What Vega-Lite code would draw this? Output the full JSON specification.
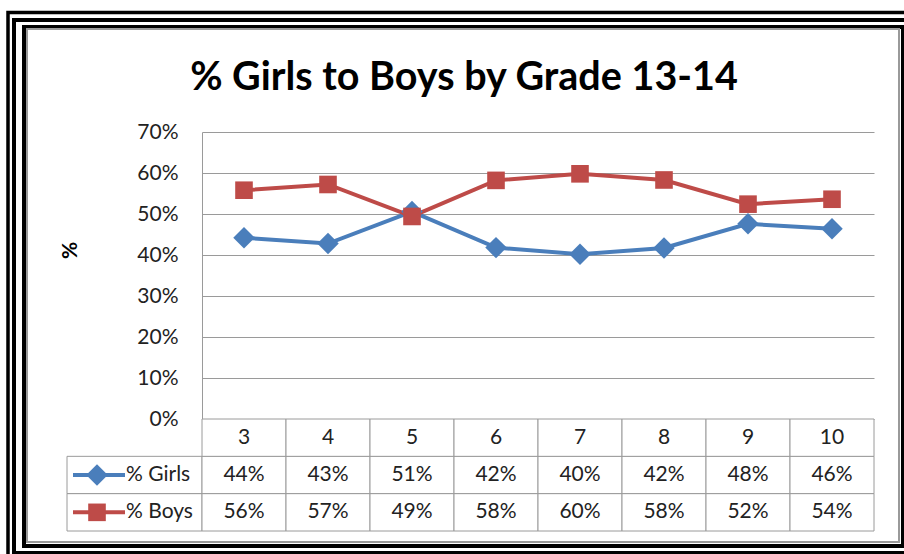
{
  "$schema": "https://vega.github.io/schema/vega-lite/v6.json",
  "padding": {"left": 6, "top": 10, "right": 0, "bottom": 0},
  "background": "white",
  "config": {"view": {"stroke": null}, "font": "Lato"},
  "datasets": {
    "rows": [
      {"grade": 3, "series": "% Girls", "value": 0.442},
      {"grade": 4, "series": "% Girls", "value": 0.428},
      {"grade": 5, "series": "% Girls", "value": 0.506},
      {"grade": 6, "series": "% Girls", "value": 0.418},
      {"grade": 7, "series": "% Girls", "value": 0.402},
      {"grade": 8, "series": "% Girls", "value": 0.417},
      {"grade": 9, "series": "% Girls", "value": 0.476},
      {"grade": 10, "series": "% Girls", "value": 0.464},
      {"grade": 3, "series": "% Boys", "value": 0.558},
      {"grade": 4, "series": "% Boys", "value": 0.572},
      {"grade": 5, "series": "% Boys", "value": 0.494},
      {"grade": 6, "series": "% Boys", "value": 0.582},
      {"grade": 7, "series": "% Boys", "value": 0.598},
      {"grade": 8, "series": "% Boys", "value": 0.583},
      {"grade": 9, "series": "% Boys", "value": 0.524},
      {"grade": 10, "series": "% Boys", "value": 0.536}
    ]
  },
  "columns": 2,
  "spacing": 0,
  "bounds": "flush",
  "align": "each",
  "concat": [
    {
      "width": 135,
      "height": 287,
      "data": {"values": [{}]},
      "layer": [
        {"mark": {"type": "rect", "filled": false, "stroke": "#000", "strokeWidth": 3.5},
         "encoding": {"x": {"value": -59}, "x2": {"value": 853}, "y": {"value": -119.5}, "y2": {"value": 434}}},
        {"mark": {"type": "rect", "filled": false, "stroke": "#000", "strokeWidth": 4},
         "encoding": {"x": {"value": -53}, "x2": {"value": 845}, "y": {"value": -112}, "y2": {"value": 421}}},
        {"mark": {"type": "rect", "filled": false, "stroke": "#000", "strokeWidth": 4},
         "encoding": {"x": {"value": -43}, "x2": {"value": 836}, "y": {"value": -105}, "y2": {"value": 414}}},
        {"mark": {"type": "rect", "filled": false, "stroke": "#9a9a9a", "strokeWidth": 2},
         "encoding": {"x": {"value": -40}, "x2": {"value": 832}, "y": {"value": -103}, "y2": {"value": 410}}}
      ]
    },
    {
      "width": 672,
      "height": 287,
      "data": {"name": "rows"},
      "title": {"text": "% Girls to Boys by Grade 13-14", "font": "Lato", "fontSize": 39.5, "fontWeight": "bold", "color": "#000", "anchor": "middle", "frame": "group", "dx": -74, "offset": 23},
      "encoding": {
        "x": {"field": "grade", "type": "ordinal", "scale": {"type": "point", "padding": 0.5}, "axis": null},
        "y": {"field": "value", "type": "quantitative", "scale": {"domain": [0, 0.7], "nice": false},
              "axis": {"values": [0, 0.1, 0.2, 0.3, 0.4, 0.5, 0.6, 0.7], "format": ".0%", "grid": true, "gridColor": "#9a9a9a", "gridWidth": 1, "gridOpacity": 1,
                       "domain": true, "domainColor": "#9a9a9a", "domainWidth": 1, "ticks": false, "labelPadding": 24,
                       "labelFont": "Lato", "labelFontSize": 21, "labelColor": "#222",
                       "title": "%", "titleFont": "Lato", "titleFontSize": 21, "titleFontWeight": "bold", "titleColor": "#000",
                       "titleX": -132, "titleY": 118, "titleAlign": "center", "titleBaseline": "middle", "titleAngle": 270}},
        "color": {"field": "series", "type": "nominal", "scale": {"domain": ["% Girls", "% Boys"], "range": ["#4A7EBB", "#BE4B48"]}, "legend": null}
      },
      "layer": [
        {"mark": {"type": "line", "strokeWidth": 4}},
        {"mark": {"type": "point", "filled": true, "opacity": 1},
         "encoding": {
           "shape": {"field": "series", "type": "nominal", "scale": {"domain": ["% Girls", "% Boys"], "range": ["diamond", "square"]}, "legend": null},
           "size": {"field": "series", "type": "nominal", "scale": {"domain": ["% Girls", "% Boys"], "range": [460, 310]}, "legend": null}
         }}
      ]
    },
    {
      "width": 135,
      "height": 112,
      "data": {"name": "rows"},
      "transform": [{"filter": "datum.grade === 3"}],
      "encoding": {
        "y": {"field": "series", "type": "nominal", "scale": {"domain": ["header", "% Girls", "% Boys"], "paddingInner": 0, "paddingOuter": 0}, "axis": null},
        "color": {"field": "series", "type": "nominal", "scale": {"domain": ["% Girls", "% Boys"], "range": ["#4A7EBB", "#BE4B48"]}, "legend": null}
      },
      "layer": [
        {"mark": {"type": "rect", "fill": "white", "stroke": "#9a9a9a", "strokeWidth": 1},
         "encoding": {"x": {"value": 0}, "x2": {"value": "width"}, "color": {"value": "white"}}},
        {"mark": {"type": "rule", "strokeWidth": 4},
         "encoding": {"x": {"value": 6}, "x2": {"value": 58}}},
        {"mark": {"type": "point", "filled": true, "opacity": 1},
         "encoding": {
           "x": {"value": 30},
           "shape": {"field": "series", "type": "nominal", "scale": {"domain": ["% Girls", "% Boys"], "range": ["diamond", "square"]}, "legend": null},
           "size": {"field": "series", "type": "nominal", "scale": {"domain": ["% Girls", "% Boys"], "range": [150, 115]}, "legend": null}
         }},
        {"mark": {"type": "text", "align": "left", "font": "Lato", "fontSize": 21},
         "encoding": {"x": {"value": 59}, "text": {"field": "series"}, "color": {"value": "#222"}}}
      ]
    },
    {
      "width": 672,
      "height": 112,
      "data": {"name": "rows"},
      "encoding": {
        "x": {"field": "grade", "type": "ordinal", "scale": {"type": "band", "paddingInner": 0, "paddingOuter": 0}, "axis": null}
      },
      "layer": [
        {"mark": {"type": "rect", "fill": "white", "stroke": "#9a9a9a", "strokeWidth": 1},
         "encoding": {"y": {"field": "series", "type": "nominal", "scale": {"domain": ["header", "% Girls", "% Boys"], "paddingInner": 0, "paddingOuter": 0}, "axis": null}}},
        {"transform": [{"filter": "datum.series === '% Girls'"}],
         "mark": {"type": "rect", "fill": "white", "stroke": "#9a9a9a", "strokeWidth": 1},
         "encoding": {"y": {"datum": "header", "type": "nominal"}}},
        {"mark": {"type": "text", "font": "Lato", "fontSize": 21, "color": "#222"},
         "encoding": {"y": {"field": "series", "type": "nominal"}, "text": {"field": "value", "type": "quantitative", "format": ".0%"}}},
        {"transform": [{"filter": "datum.series === '% Girls'"}],
         "mark": {"type": "text", "font": "Lato", "fontSize": 21, "color": "#222"},
         "encoding": {"y": {"datum": "header", "type": "nominal"}, "text": {"field": "grade", "type": "ordinal"}}}
      ]
    }
  ]
}
